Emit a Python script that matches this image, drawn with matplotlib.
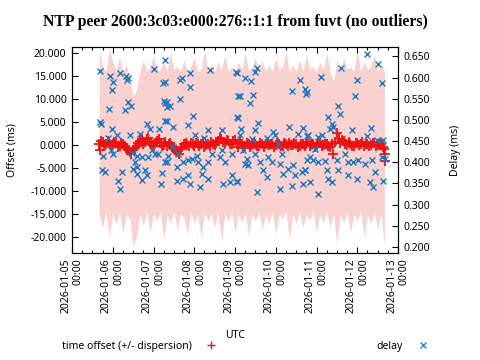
import numpy as np
import pandas as pd
import matplotlib
matplotlib.use("Agg")
import matplotlib.pyplot as plt
import matplotlib.dates as mdates
from matplotlib.lines import Line2D

plt.rcParams['font.family'] = ['Noto Sans', 'DejaVu Sans']
plt.rcParams['font.size'] = 7.5

start = pd.Timestamp("2026-01-05 00:00")

# time offset (ms), one sample per hour from 16h after start
off_hours = list(range(16, 185)) + [16.5, 184.4, 184.6]
offset = [0.3, 0.9, 0.6, -0.2, 0.2, 0.8, 0.5, -0.1, 0.1, 0.6, 0.4, -0.4, -0.2, 0.5, 0.3, -0.3,
          -0.6, -1.2, -1.5, -2.0, -1.0, -0.7, -0.3, 0.4, 0.8, 1.4, 0.2, 0.7, 1.2, 1.6, 0.5, 0.0,
          -0.3, 0.4, 0.9, 1.3, 0.4, -0.2, 0.0, 0.6, -0.2, 0.3, 0.5, -0.2, -0.8, -1.3, -1.6, -1.9,
          -0.9, -0.4, 0.2, 0.5, 0.0, -0.3, 0.4, 0.1, -0.3, 0.5, 0.3, -0.2, 0.1, 0.6, -0.4, 0.0,
          0.2, -0.3, 0.7, 0.3, -0.1, 0.5, 0.9, 1.5, 1.2, 0.6, 0.4, 1.1, 0.8, 0.2, 0.2, 0.9,
          1.0, 0.3, -0.5, 0.6, 0.1, -0.6, -0.3, 0.4, 0.2, -0.4, 0.0, 0.5, 0.3, -0.3, -0.2, 0.4,
          0.1, -0.4, 0.2, 0.6, -0.1, 0.2, 0.3, -0.4, 0.0, 0.5, 0.2, -0.3, -0.2, 0.4, 0.1, -0.3,
          0.4, 0.0, -0.1, 0.5, 0.2, -0.4, -0.3, 0.3, 0.1, -0.3, 0.3, 0.6, -0.2, 0.2, 0.1, -0.4,
          0.0, 0.5, 0.4, -0.2, -0.1, 0.3, 0.2, -0.3, -0.4, 0.2, -1.9, 0.6, 2.6, 1.4, 0.5, 1.0,
          0.9, 0.2, 0.0, 0.6, 0.3, -0.2, -0.3, 0.4, 0.4, -0.1, 0.1, 0.6, -0.2, 0.2, 0.3, -0.3,
          0.0, 0.5, 0.4, -0.2, -0.1, 0.3, 0.2, -0.4, -0.8,
          -1.0, -2.0, -3.5]

# offset +/- dispersion envelope (ms), every 2 hours
band_hours = list(range(16, 185, 2))
band_top = [20.5, 17, 16, 21, 18, 16.5, 19, 16, 17.5, 14, 10.5, 12, 16, 18.5, 16, 17,
            19.5, 16, 16.5, 18, 16, 20, 16.5, 17, 16, 18.5, 16, 17, 19, 16, 16.5, 20.5,
            16, 17.5, 16, 18, 16.5, 19.5, 16, 17, 16, 18, 16.5, 20, 16, 17, 19, 16,
            18.5, 16, 17.5, 16, 19, 16.5, 17, 20.5, 16, 17.5, 16, 18.5, 16, 19.5, 16.5, 17,
            16, 18, 16.5, 20, 16, 14, 18.5, 16, 19, 16.5, 17, 16, 20.5, 16, 18, 16.5,
            17, 19.5, 16, 17.5, 16]
band_bot = [-15, -18, -14.5, -20, -15, -17, -14.5, -19, -15, -16, -22, -20, -15, -17.5, -14.5, -19,
            -15, -16.5, -14.5, -20.5, -15, -17, -14.5, -18.5, -15, -16, -19.5, -14.5, -17, -15, -20, -14.5,
            -16.5, -15, -18, -14.5, -21, -15, -16.5, -14.5, -19, -15, -17, -14.5, -20, -15, -16.5, -14.5,
            -18.5, -15, -17, -14.5, -19.5, -15, -16, -14.5, -20.5, -15, -17, -14.5, -18, -15, -16.5, -14.5,
            -19, -15, -17, -14.5, -18, -15, -21.5, -15, -17, -14.5, -19, -15, -16.5, -14.5, -20, -15,
            -17, -14.5, -18.5, -15, -22]

# delay (ms)
delay_hours = [16.5, 22.4, 24.3, 28.3, 31.6, 33.2, 32.2, 23.7, 54.8, 48.5, 53.8, 21.8, 32.8, 34.8, 31.2,
               54.4, 55.8, 16.5, 17.1, 44.0, 45.9, 51.2, 54.8, 23.4, 26.3, 21.0, 34.2, 40.1, 18.4, 24.3,
               23.0, 35.2, 38.1, 41.1, 44.9, 46.9, 48.9, 50.8, 55.8, 17.8, 19.4, 37.1, 36.1, 38.1, 43.0,
               41.1, 44.0, 29.3, 27.3, 28.3, 52.8, 52.4, 38.1,
               81.3, 69.5, 63.6, 64.6, 69.5, 96.4, 54.8, 63.6, 55.8, 57.7, 54.8, 71.4, 55.8, 59.7, 68.1,
               79.9, 88.2, 97.0, 97.6, 72.4, 77.9, 56.7, 59.7, 62.6, 65.6, 68.5, 70.5, 73.4, 74.4, 77.3,
               80.3, 82.3, 87.2, 88.2, 90.1, 94.1, 54.8, 61.7, 61.7, 65.6, 68.5, 69.5, 75.4, 80.3, 89.1,
               94.1, 93.1, 97.0, 76.4,
               97.0, 108.8, 107.8, 101.9, 105.4, 98.9, 106.8, 104.8, 134.3, 129.8, 137.2, 137.6, 98.0,
               99.5, 109.7, 107.8, 105.8, 98.9, 127.8, 136.2, 133.3, 138.2, 118.6, 119.6, 114.7, 121.5,
               102.9, 101.9, 103.8, 110.7, 112.7, 114.7, 115.6, 117.6, 122.5, 124.5, 127.4, 130.3, 131.3,
               135.3, 138.2, 137.2, 97.0, 108.8, 122.5, 129.8, 136.2, 100.9, 107.8, 123.5,
               173.6, 180.4, 158.4, 146.7, 167.7, 182.4, 138.2, 166.7, 156.9, 157.9, 151.0, 153.0, 153.9,
               152.0, 139.2, 145.1, 147.1, 164.7, 176.1, 173.6, 179.5, 183.4, 143.1, 140.2, 142.1, 145.1,
               149.0, 155.9, 160.8, 162.7, 165.7, 168.6, 172.6, 176.5, 182.4, 184.4, 150.0, 151.0, 153.0,
               140.2, 145.1, 156.9, 162.7, 167.7, 175.5, 178.5, 177.5, 183.4, 137.2]
delay = [0.616, 0.604, 0.590, 0.610, 0.604, 0.600, 0.594, 0.570, 0.641, 0.620, 0.586, 0.526, 0.543, 0.533, 0.523,
         0.545, 0.531, 0.495, 0.490, 0.490, 0.478, 0.479, 0.498, 0.479, 0.464, 0.458, 0.464, 0.466, 0.416, 0.420,
         0.428, 0.422, 0.416, 0.412, 0.412, 0.428, 0.420, 0.419, 0.400, 0.382, 0.377, 0.400, 0.385, 0.373, 0.381,
         0.359, 0.369, 0.377, 0.357, 0.337, 0.374, 0.349, 0.389,
         0.618, 0.610, 0.594, 0.598, 0.578, 0.614, 0.590, 0.550, 0.543, 0.532, 0.539, 0.509, 0.498, 0.483, 0.487,
         0.476, 0.476, 0.507, 0.556, 0.464, 0.458, 0.416, 0.436, 0.420, 0.400, 0.405, 0.408, 0.416, 0.400, 0.389,
         0.400, 0.420, 0.412, 0.428, 0.400, 0.420, 0.400, 0.389, 0.357, 0.361, 0.369, 0.349, 0.341, 0.361, 0.349,
         0.369, 0.353, 0.357, 0.373,
         0.611, 0.622, 0.614, 0.598, 0.592, 0.556, 0.559, 0.540, 0.594, 0.569, 0.572, 0.561, 0.505,
         0.479, 0.493, 0.476, 0.456, 0.464, 0.483, 0.481, 0.466, 0.461, 0.472, 0.464, 0.458, 0.444,
         0.408, 0.396, 0.393, 0.400, 0.381, 0.365, 0.412, 0.400, 0.396, 0.373, 0.385, 0.393, 0.369,
         0.377, 0.405, 0.381, 0.353, 0.329, 0.337, 0.343, 0.349, 0.428, 0.420, 0.420,
         0.656, 0.632, 0.622, 0.602, 0.594, 0.586, 0.566, 0.556, 0.533, 0.514, 0.507, 0.490, 0.483,
         0.479, 0.464, 0.460, 0.464, 0.477, 0.482, 0.461, 0.453, 0.452, 0.432, 0.412, 0.405, 0.400,
         0.403, 0.405, 0.420, 0.400, 0.400, 0.405, 0.396, 0.405, 0.412, 0.408, 0.381, 0.361, 0.353,
         0.353, 0.325, 0.382, 0.369, 0.361, 0.353, 0.377, 0.341, 0.357, 0.381]

def to_time(h):
    return start + pd.to_timedelta(np.array(h, dtype=float), unit="h")

fig = plt.figure(figsize=(4.8, 3.6), dpi=100)
ax = fig.add_axes([72/480, 1-253/360, 326/480, 206/360])
ax2 = ax.twinx()

ax.fill_between(to_time(band_hours), band_bot, band_top, color="#f9d2d0", lw=0)
ax.plot(to_time(off_hours), offset, ls="none", marker="+", ms=7, mew=1.3, color="#ee1010")
ax2.plot(to_time(delay_hours), delay, ls="none", marker="x", ms=5, mew=1, color="#1a78c2")

ax.set_xlim(pd.Timestamp("2026-01-05"), pd.Timestamp("2026-01-13"))
ax.set_ylim(-23.5, 21.3)
ax2.set_ylim(0.186, 0.672)

ax.set_yticks(np.arange(-20, 21, 5))
ax.yaxis.set_major_formatter(plt.FormatStrFormatter("%.3f"))
ax2.set_yticks(np.arange(0.2, 0.651, 0.05))
ax2.yaxis.set_major_formatter(plt.FormatStrFormatter("%.3f"))

ax.xaxis.set_major_locator(mdates.DayLocator())
ax.xaxis.set_minor_locator(mdates.HourLocator(byhour=[6, 12, 18]))
ax.xaxis.set_major_formatter(mdates.DateFormatter("%Y-%m-%d\n%H:%M"))
for lbl in ax.get_xticklabels():
    lbl.set_rotation(90)
    lbl.set_ha("center")
    lbl.set_va("top")
    lbl.set_multialignment("right")

ax.tick_params(axis="x", which="major", direction="in", top=True, length=4, width=0.8, pad=4)
ax.tick_params(axis="x", which="minor", direction="in", top=True, length=2, width=0.8)
ax.tick_params(axis="y", direction="in", right=False, length=4, width=0.8, pad=4)
ax2.tick_params(axis="y", direction="in", length=4, width=0.8, pad=4)

ax.set_ylabel("Offset (ms)")
ax.yaxis.set_label_coords(-0.166, 0.5)
ax2.set_ylabel("Delay (ms)")
ax2.yaxis.set_label_coords(1.16, 0.5)
ax.set_xlabel("UTC")
ax.xaxis.set_label_coords(0.5, -0.372)

fig.text(235/480, 1-22/360, "NTP peer 2600:3c03:e000:276::1:1 from fuvt (no outliers)",
         family="Liberation Serif", weight="bold", size=11.3, ha="center", va="center")

h1 = Line2D([], [], ls="none", marker="+", ms=6, mew=1, color="#ee1010")
h2 = Line2D([], [], ls="none", marker="x", ms=5, mew=0.9, color="#1a78c2")
leg1 = fig.legend([h1], ["time offset (+/- dispersion)"], loc="center left", markerfirst=False,
                  bbox_to_anchor=(62/480, 1-346/360), frameon=False, borderpad=0,
                  borderaxespad=0, handlelength=1, handletextpad=1.3, fontsize=7.5)
leg2 = fig.legend([h2], ["delay"], loc="center left", markerfirst=False,
                  bbox_to_anchor=(376/480, 1-346/360), frameon=False, borderpad=0,
                  borderaxespad=0, handlelength=1, handletextpad=1.5, fontsize=7.5)

fig.savefig("out.png", dpi=100)
